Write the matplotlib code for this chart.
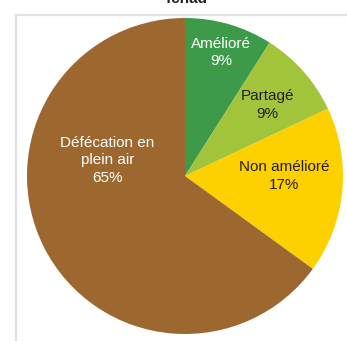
import numpy as np
import matplotlib.pyplot as plt
from matplotlib.lines import Line2D

plt.rcParams['font.family'] = ['Liberation Sans', 'DejaVu Sans']

# Chad sanitation shares (%)
categories = ['Amélioré', 'Partagé', 'Non amélioré', 'Défécation en\nplein air']
shares = [9, 9, 17, 65]
colors = ['#3d9a48', '#a2c43b', '#fdd100', '#9c6830']
text_colors = ['white', '#231f20', '#231f20', 'white']
# label centres in pie units (radius = 1)
label_xy = [(0.23, 0.78), (0.52, 0.45), (0.63, 0.0), (-0.49, 0.10)]

W, H = 347, 341
fig = plt.figure(figsize=(W / 100, H / 100), dpi=100)

# panel frame (light grey, runs off the canvas)
fig.add_artist(Line2D([16 / W, 1], [1 - 15 / H, 1 - 15 / H], color='#e2e2e2', lw=1.6))
fig.add_artist(Line2D([16 / W, 16 / W], [0, 1 - 15 / H], color='#e2e2e2', lw=1.6))
fig.text(186 / W, 1 - 3 / H, 'Tchad', ha='center', va='baseline',
         fontsize=11, fontweight='bold', color='#231f20')

cx, cy, r = 185, 176, 158
ax = fig.add_axes([(cx - r) / W, 1 - (cy + r) / H, 2 * r / W, 2 * r / H])
ax.pie(shares, colors=colors, startangle=90, counterclock=False, radius=1,
       wedgeprops=dict(linewidth=0))
ax.set_xlim(-1, 1)
ax.set_ylim(-1, 1)
ax.set_aspect('equal')
ax.axis('off')

for name, val, tc, (x, y) in zip(categories, shares, text_colors, label_xy):
    ax.text(x, y, '%s\n%d%%' % (name, val), ha='center', va='center',
            color=tc, fontsize=11, linespacing=1.3)

fig.savefig('out.png', dpi=100)
